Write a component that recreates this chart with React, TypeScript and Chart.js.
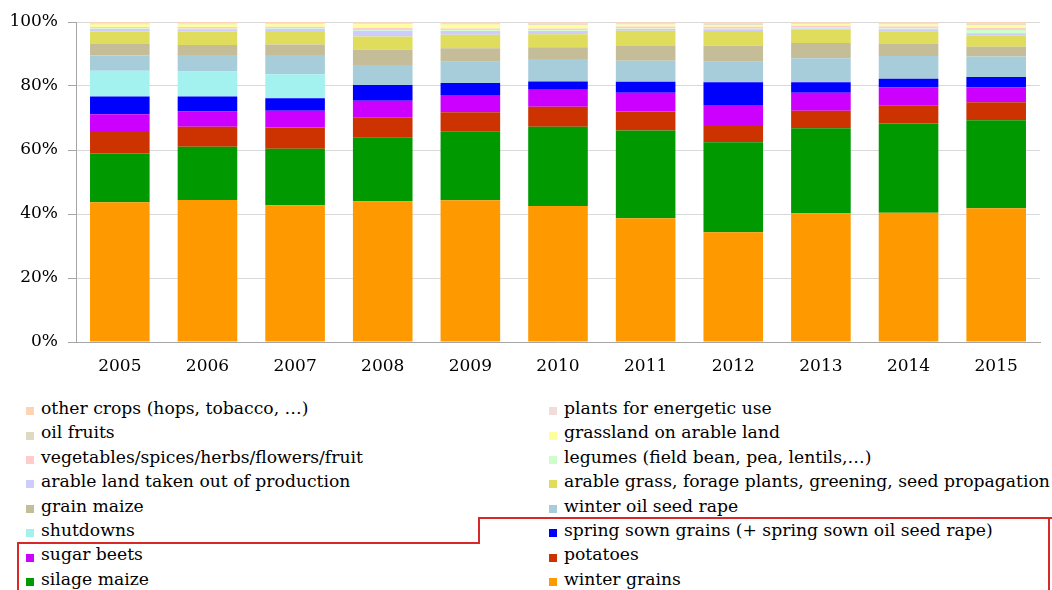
import React, { useEffect, useLayoutEffect, useRef } from "react";
import { Chart, registerables } from "chart.js";

Chart.register(...registerables);

const years = ["2005", "2006", "2007", "2008", "2009", "2010", "2011", "2012", "2013", "2014", "2015"];
const yTicks = [0, 20, 40, 60, 80, 100];

const winterGrains = [43.7, 44.4, 42.7, 44.0, 44.3, 42.5, 38.7, 34.3, 40.2, 40.4, 41.8];
const silageMaize = [15.2, 16.6, 17.7, 20.0, 21.4, 24.8, 27.4, 28.1, 26.6, 27.9, 27.5];
const potatoes = [6.7, 6.3, 6.6, 6.1, 6.1, 6.2, 5.9, 5.4, 5.5, 5.7, 5.6];
const sugarBeets = [5.6, 4.7, 5.3, 5.3, 5.4, 5.3, 5.9, 6.3, 5.6, 5.5, 4.6];
const springGrains = [5.5, 4.7, 3.9, 4.9, 3.7, 2.6, 3.4, 7.1, 3.3, 2.8, 3.3];
const shutdowns = [8.1, 7.8, 7.5, 0, 0, 0, 0, 0, 0, 0, 0];
const winterOilSeedRape = [4.7, 5.2, 6.0, 6.3, 6.7, 7.0, 6.6, 6.4, 7.5, 7.1, 6.4];
const grainMaize = [3.6, 3.1, 3.3, 4.7, 4.2, 3.7, 4.6, 5.0, 4.7, 3.9, 3.1];
const arableGrass = [3.9, 4.2, 3.9, 4.2, 4.2, 4.1, 4.8, 4.6, 4.2, 3.8, 3.4];
const setAside = [0.8, 0.7, 1.0, 1.8, 1.2, 1.0, 0.5, 0.5, 0.4, 0.6, 0.8];
const legumes = [0.2, 0.2, 0.2, 0.2, 0.2, 0.2, 0.2, 0.2, 0.2, 0.3, 1.0];
const vegetables = [0.4, 0.5, 0.4, 0.6, 0.6, 0.6, 0.6, 0.6, 0.6, 0.6, 0.6];
const grassland = [0.8, 0.8, 0.8, 1.2, 1.2, 1.1, 0.6, 0.6, 0.5, 0.6, 1.0];
const oilFruits = [0.2, 0.2, 0.2, 0.2, 0.2, 0.2, 0.1, 0.2, 0.1, 0.1, 0.2];
const energyPlants = [0.2, 0.2, 0.1, 0.3, 0.4, 0.5, 0.5, 0.5, 0.4, 0.5, 0.4];
const otherCrops = [0.4, 0.4, 0.4, 0.2, 0.2, 0.2, 0.2, 0.2, 0.2, 0.2, 0.3];

const seriesLabels = [
  "winter grains",
  "silage maize",
  "potatoes",
  "sugar beets",
  "spring sown grains (+ spring sown oil seed rape)",
  "shutdowns",
  "winter oil seed rape",
  "grain maize",
  "arable grass, forage plants, greening, seed propagation",
  "arable land taken out of production",
  "legumes (field bean, pea, lentils,…)",
  "vegetables/spices/herbs/flowers/fruit",
  "grassland on arable land",
  "oil fruits",
  "plants for energetic use",
  "other crops (hops, tobacco, …)",
];
const seriesData = [
  winterGrains, silageMaize, potatoes, sugarBeets, springGrains, shutdowns,
  winterOilSeedRape, grainMaize, arableGrass, setAside, legumes, vegetables,
  grassland, oilFruits, energyPlants, otherCrops,
];
const seriesColors = [
  "#FF9900", "#009900", "#CC3300", "#CC00FF", "#0000FF", "#A4F2F0",
  "#A7CDDB", "#C4BD97", "#E1DD5C", "#CCCCFF", "#CCFFCC", "#FFCCCC",
  "#FFFF99", "#DDD9C3", "#F2DCDB", "#FCD5B5",
];

const FONT_FAMILY = "'DejaVu Serif', serif";

export default function App() {
  const canvasRef = useRef<HTMLCanvasElement | null>(null);

  useLayoutEffect(() => {
    document.body.style.margin = "0";
    document.body.style.overflow = "hidden";
  }, []);

  useEffect(() => {
    if (!canvasRef.current) return;
    const chart = new Chart(canvasRef.current, {
      type: "bar",
      data: {
        labels: years,
        datasets: seriesLabels.map((label, i) => ({
          label,
          data: seriesData[i],
          backgroundColor: seriesColors[i],
          borderWidth: 0,
          barPercentage: 0.68,
          categoryPercentage: 1,
        })),
      },
      options: {
        responsive: true,
        maintainAspectRatio: false,
        animation: false,
        layout: { padding: { top: 14, right: 4, left: 0, bottom: 0 } },
        plugins: { legend: { display: false }, tooltip: { enabled: false } },
        scales: {
          x: {
            stacked: true,
            grid: { display: false, drawTicks: false },
            border: { color: "#A6A6A6" },
            ticks: { color: "#000", font: { family: FONT_FAMILY, size: 17 }, padding: 14 },
            afterFit: (scale: any) => {
              scale.height = 46;
            },
          },
          y: {
            stacked: true,
            min: 0,
            max: 100,
            afterBuildTicks: (scale: any) => {
              scale.ticks = yTicks.map((v) => ({ value: v }));
            },
            ticks: {
              color: "#000",
              font: { family: FONT_FAMILY, size: 17 },
              padding: 10,
              callback: (v: any) => v + "%",
            },
            grid: { color: "#D9D9D9", tickLength: 8, tickColor: "#A6A6A6" },
            border: { color: "#A6A6A6" },
            afterFit: (scale: any) => {
              scale.width = 68;
              scale.paddingTop = 0;
              scale.paddingBottom = 0;
            },
          },
        },
      },
    });
    return () => chart.destroy();
  }, []);

  const legendOrder = seriesLabels.map((_, i) => i).reverse();
  const rowH = 24.4;
  const redColor = "#D82828";
  const lineStyle = (l: number, t: number, w: number, h: number): React.CSSProperties => ({
    position: "absolute",
    left: l,
    top: t,
    width: w,
    height: h,
    background: redColor,
  });

  return (
    <div style={{ position: "relative", width: 1052, height: 590, overflow: "hidden", background: "#fff" }}>
      <div style={{ position: "absolute", left: 8, top: 8, width: 1036, height: 380 }}>
        <canvas ref={canvasRef} />
      </div>
      {legendOrder.map((idx, k) => {
        const row = Math.floor(k / 2);
        const col = k % 2;
        return (
          <div
            key={idx}
            style={{
              position: "absolute",
              left: col === 0 ? 26 : 549,
              top: 396 + row * rowH,
              height: rowH,
              lineHeight: rowH + "px",
              fontFamily: FONT_FAMILY,
              fontSize: 17.2,
              color: "#000",
              whiteSpace: "nowrap",
              display: "flex",
              alignItems: "center",
            }}
          >
            <span
              style={{
                display: "inline-block",
                width: 8,
                height: 8,
                background: seriesColors[idx],
                marginRight: 7,
                marginTop: 6,
              }}
            />
            <span>{seriesLabels[idx]}</span>
          </div>
        );
      })}
      <div style={lineStyle(478, 517, 574, 2)} />
      <div style={lineStyle(478, 517, 2, 27)} />
      <div style={lineStyle(17, 542, 463, 2)} />
      <div style={lineStyle(17, 542, 2, 48)} />
      <div style={lineStyle(1048, 517, 2, 73)} />
    </div>
  );
}
